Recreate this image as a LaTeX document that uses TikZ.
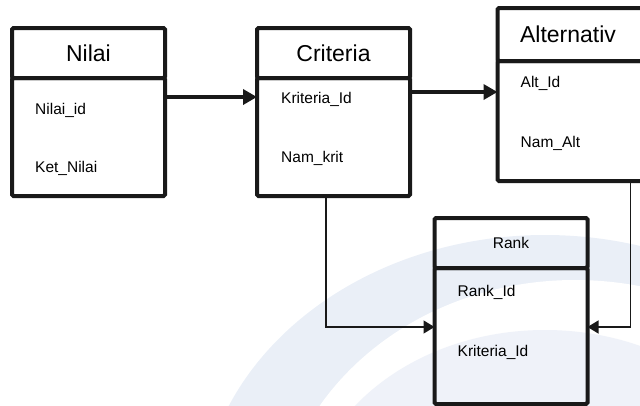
\documentclass[tikz,border=0pt]{standalone}
\usepackage{fontspec}
\setmainfont{Liberation Sans}
\usetikzlibrary{arrows.meta}
\usetikzlibrary{positioning}
\usetikzlibrary{calc}
\definecolor{wmark}{RGB}{234,239,247}
\definecolor{wmarklight}{RGB}{239,242,249}
\tikzset {
  table box/.style = {
    draw = black!90,
    line width = 4pt,
    rounded corners = 1.5pt,
    inner sep = 0,
    outer sep = 0
  },
  % header of a table
  thead/.style = {
    table box,
    minimum width = 153pt,
    minimum height = 50pt,
    font = \fontsize{23}{26}\selectfont
  },
  % body holding the fields
  tbody/.style = {
    table box,
    minimum width = 153pt,
    minimum height = 118pt
  },
  % field name
  field/.style = {
    anchor = west,
    inner sep = 0,
    font = \fontsize{15.5}{18}\selectfont
  },
  % thick arrow between tables
  bigarr/.style = {
    draw = black!90,
    line width = 4.5pt,
    -{Triangle[length=14pt,width=15pt]}
  },
  % thin link into the rank table
  link/.style = {
    draw = black!90,
    line width = 1.4pt,
    -{Triangle[length=11pt,width=13pt]}
  }
}

\begin{document}
\begin{tikzpicture}[x=1pt,y=-1pt]
    \useasboundingbox (0,0) rectangle (640,405);
    \clip (0,0) rectangle (640,405);
    % watermark
    \fill[wmark] (545,520) ellipse [x radius=345, y radius=285];
    \fill[white] (575,545) ellipse [x radius=300, y radius=265];
    \fill[wmarklight] (545,525) ellipse [x radius=240, y radius=195];

    % Nilai
    \node[thead] (nilai-head) at (88.5,53) {Nilai};
    \node[tbody] (nilai-body) [below=0pt of nilai-head] {};
    \node[field] (nilai-id) at ($(nilai-head.south west)+(23,32)$) {Nilai\_id};
    \node[field] (ket-nilai) at ($(nilai-head.south west)+(23,90)$) {Ket\_Nilai};

    % Criteria
    \node[thead] (crit-head) at (333.5,53) {Criteria};
    \node[tbody] (crit-body) [below=0pt of crit-head] {};
    \node[field] (kriteria-id) at ($(crit-head.south west)+(24,21)$) {Kriteria\_Id};
    \node[field] (nam-krit) at ($(crit-head.south west)+(24,80)$) {Nam\_krit};

    % Alternativ
    \node[thead, minimum height = 53pt] (alt-head) at (574,34.5) {\hspace*{-12pt}Alternativ};
    \node[tbody, minimum height = 120pt] (alt-body) [below=0pt of alt-head] {};
    \node[field] (alt-id) at ($(alt-head.south west)+(23,22)$) {Alt\_Id};
    \node[field] (nam-alt) at ($(alt-head.south west)+(23,82)$) {Nam\_Alt};

    % Rank
    \node[thead, font = \fontsize{15.5}{18}\selectfont] (rank-head) at (511,243) {Rank};
    \node[tbody, minimum height = 136pt] (rank-body) [below=0pt of rank-head] {};
    \node[field] (rank-id) at ($(rank-head.south west)+(23,24)$) {Rank\_Id};
    \node[field] (rank-krit) at ($(rank-head.south west)+(23,84)$) {Kriteria\_Id};

    \draw[bigarr] ([yshift=-19pt]nilai-body.north east) coordinate (n-c)
      -- (crit-body.west |- n-c);
    \draw[bigarr] ([yshift=-14pt]crit-body.north east) coordinate (c-a)
      -- (alt-body.west |- c-a);

    \draw[link] ([xshift=69pt]crit-body.south west) |- ([yshift=-59pt]rank-body.north west);
    \draw[link] ([xshift=133pt]alt-body.south west) |- ([yshift=-59pt]rank-body.north east);
\end{tikzpicture}
\end{document}
